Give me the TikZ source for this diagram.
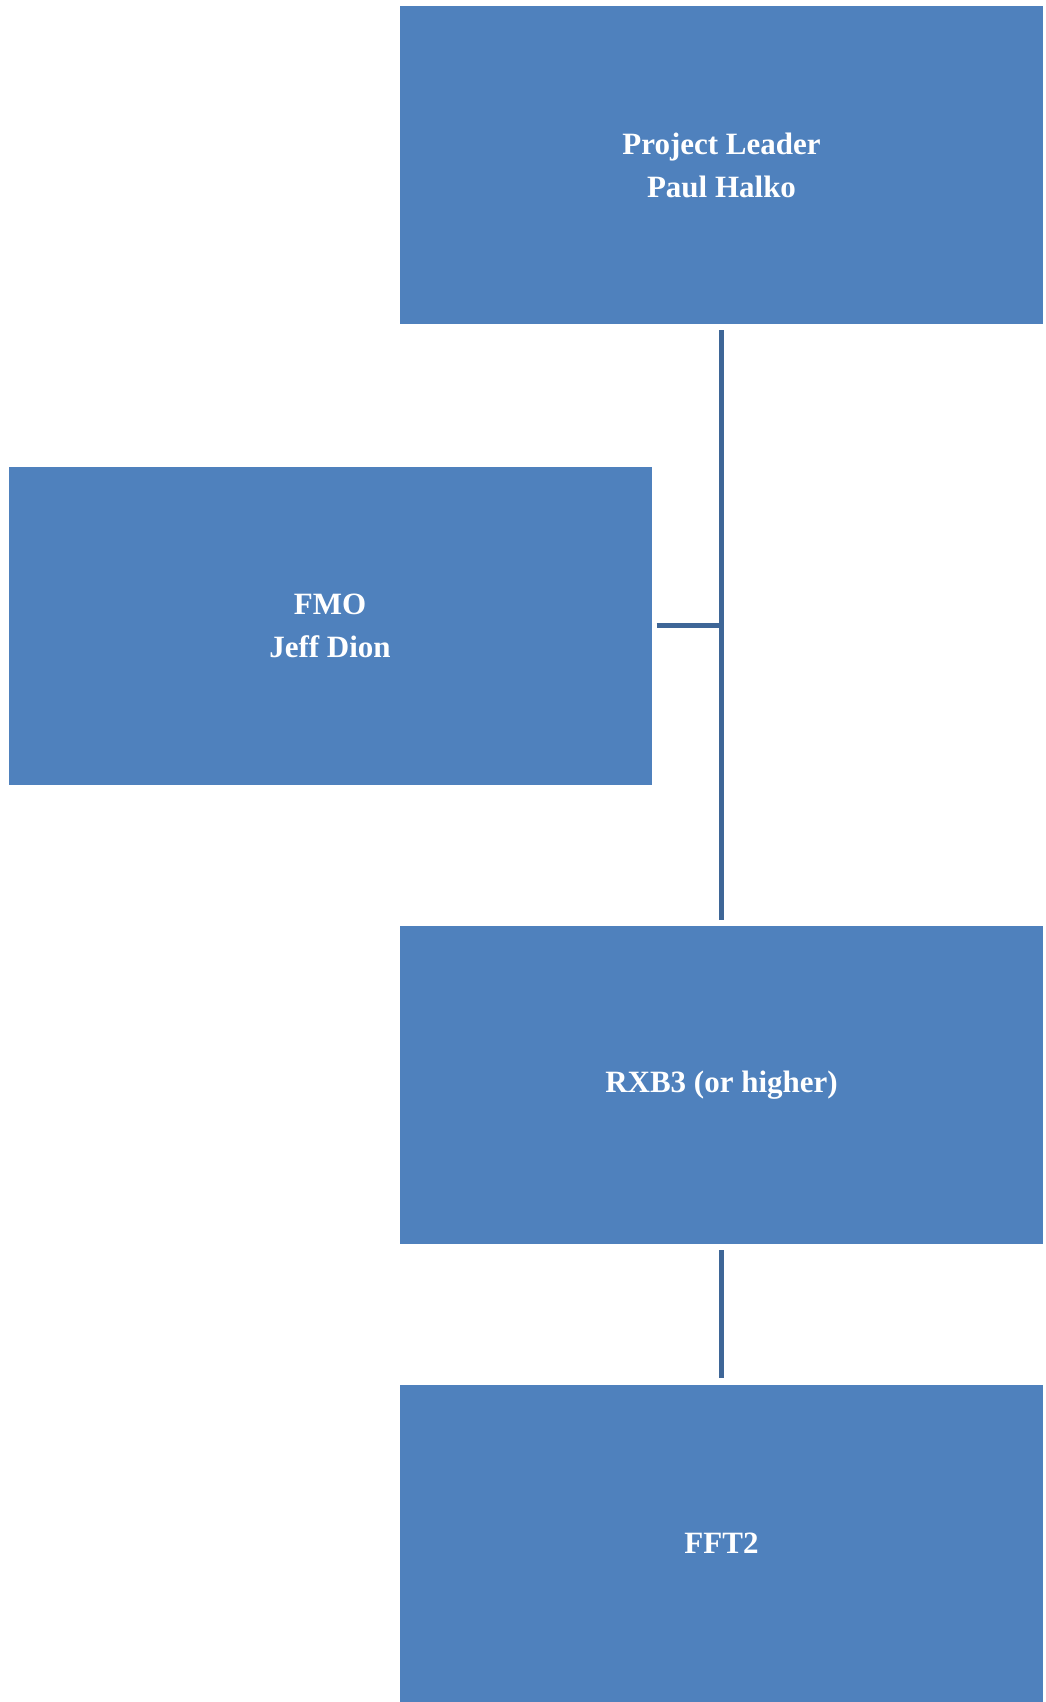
\documentclass[tikz,border=0pt]{standalone}
\usepackage{fontspec}
\setmainfont{Liberation Serif}
\usepackage{tikz}
\usetikzlibrary{positioning, calc}

\definecolor{boxblue}{HTML}{4F81BD}
\definecolor{linkblue}{HTML}{3E6697}

\tikzset{
	orgbox/.style={fill=boxblue, text=white, font=\fontsize{31}{43}\selectfont\bfseries, align=center, minimum width=643pt, minimum height=318pt, inner sep=0pt},
	orglink/.style={draw=linkblue, line width=5pt}
}

\begin{document}
\begin{tikzpicture}[x=1pt, y=-1pt]
	\useasboundingbox (0,0) rectangle (1045,1702);
	\node[orgbox] (leader) at (721.5,165) {Project Leader\\Paul Halko};
	\node[orgbox] (fmo) at (330,625.5) {FMO\\Jeff Dion};
	\node[orgbox] (rxb) at (721.5,1085) {RXB3 (or higher)};
	\node[orgbox] (fft) at (721.5,1543.5) {FFT2};
	\coordinate (joint) at (leader.south |- fmo.east);
	\draw[orglink, shorten <=6pt, shorten >=6pt] (leader.south) -- (rxb.north);
	\draw[orglink, shorten <=5pt] (fmo.east) -- ([xshift=2.5pt]joint);
	\draw[orglink, shorten <=6pt, shorten >=6pt] (rxb.south) -- (fft.north);
\end{tikzpicture}
\end{document}
